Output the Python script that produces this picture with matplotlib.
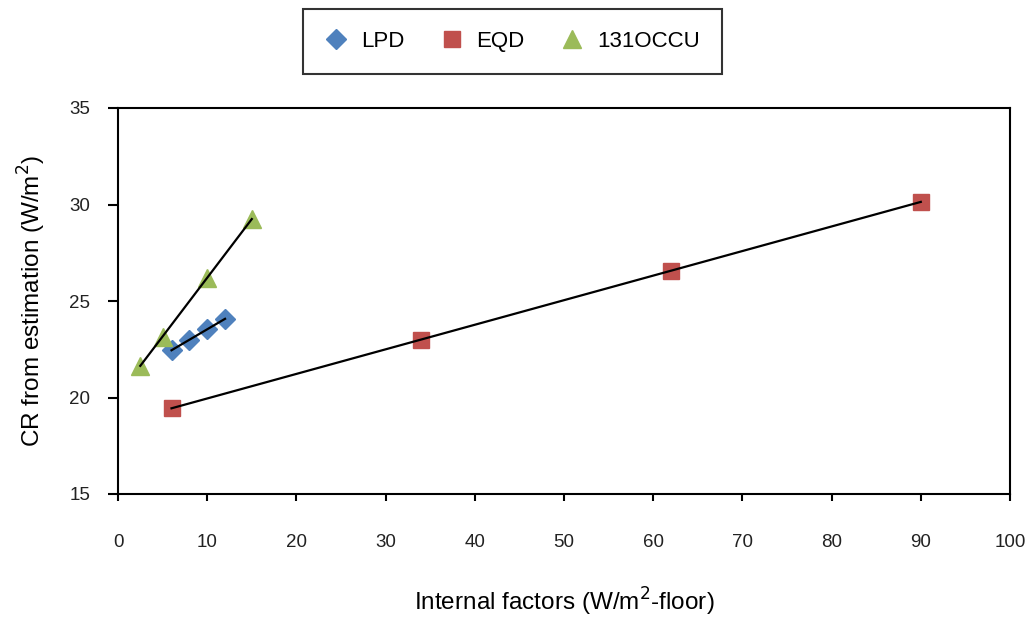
import numpy as np
import matplotlib
matplotlib.use("Agg")
import matplotlib.pyplot as plt
from matplotlib.lines import Line2D

plt.rcParams['font.family'] = ['Liberation Sans', 'DejaVu Sans']

lpd_x = [6, 8, 10, 12]
lpd_y = [22.45, 22.98, 23.55, 24.07]
eqd_x = [6, 34, 62, 90]
eqd_y = [19.45, 23.0, 26.55, 30.15]
occ_x = [2.5, 5, 10, 15]
occ_y = [21.65, 23.15, 26.2, 29.25]

series = [
    ("LPD", lpd_x, lpd_y, 'D', '#4F81BD', 10.5),
    ("EQD", eqd_x, eqd_y, 's', '#C0504D', 11.5),
    ("131OCCU", occ_x, occ_y, '^', '#9BBB59', 13),
]

fig = plt.figure(figsize=(10.34, 6.24), dpi=100)
ax = fig.add_axes([118/1034, 1-494/624, (1010-118)/1034, (494-108)/624])

handles = []
for name, xs, ys, m, c, ms in series:
    ax.plot(xs, ys, linestyle='none', marker=m, color=c, markersize=ms,
            markeredgecolor=c, zorder=2)
    k, b = np.polyfit(xs, ys, 1)
    xx = np.array([min(xs), max(xs)])
    ax.plot(xx, k*xx + b, color='black', lw=1.6, zorder=3)
    handles.append(Line2D([], [], linestyle='none', marker=m, color=c,
                          markersize=ms*0.95, markeredgecolor=c, label=name))

ax.set_xlim(0, 100)
ax.set_ylim(15, 35)
ax.set_xticks(np.arange(0, 101, 10))
ax.set_yticks(np.arange(15, 36, 5))
for s in ax.spines.values():
    s.set_linewidth(1.5)
    s.set_color('black')
ax.tick_params(axis='x', direction='out', length=5, width=1.5, pad=24, labelsize=13.5, colors='black')
ax.tick_params(axis='y', direction='out', length=7, width=1.5, pad=13, labelsize=13.5, colors='black')
for t in ax.get_xticklabels() + ax.get_yticklabels():
    t.set_color('#222222')

ax.set_xlabel('Internal factors (W/m$^2$-floor)', fontsize=17.5, labelpad=25)
ax.set_ylabel('CR from estimation (W/m$^2$)', fontsize=17.5, labelpad=15)

leg = fig.legend(handles=handles, ncol=3, loc='center',
                 bbox_to_anchor=(512.5/1034, 1-41.5/624), fontsize=16,
                 frameon=True, fancybox=False, edgecolor='black',
                 borderpad=1.0, columnspacing=1.65, handletextpad=0.6,
                 handlelength=1.0, borderaxespad=0)
leg.get_frame().set_linewidth(1.5)

fig.savefig('out.png', dpi=100)
